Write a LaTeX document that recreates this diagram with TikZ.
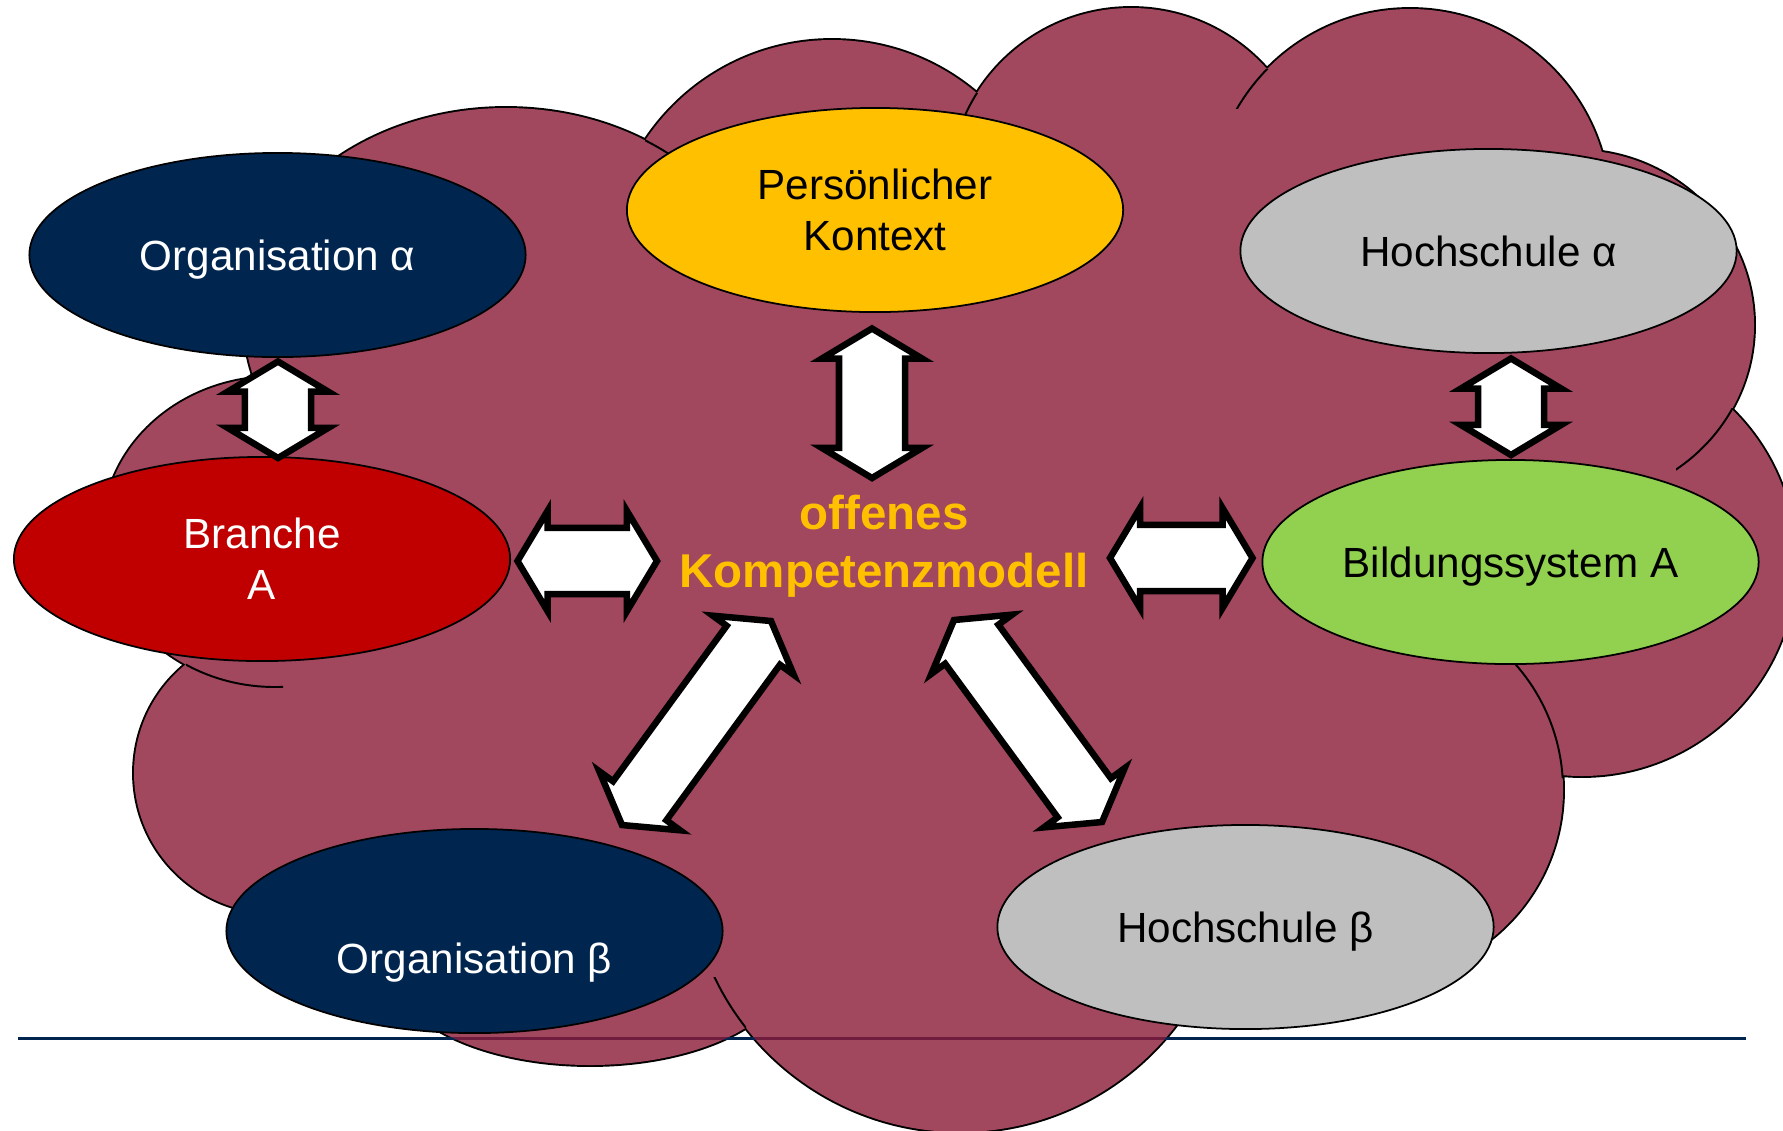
\documentclass[tikz,border=0pt]{standalone}
\usepackage{fontspec}
\setmainfont{Liberation Sans}
\usetikzlibrary{shapes.geometric,calc}

\definecolor{cloudred}{RGB}{161,71,94}
\definecolor{cloudrule}{RGB}{112,28,62}
\definecolor{navy}{RGB}{0,38,80}
\definecolor{brred}{RGB}{192,0,0}
\definecolor{gold}{RGB}{255,192,0}
\definecolor{silver}{RGB}{191,191,191}
\definecolor{leaf}{RGB}{146,208,80}

\tikzset{
  bubble/.style={ellipse, draw=black, line width=0.5pt, minimum width=4.96cm,
    minimum height=2.04cm, inner sep=0pt, align=center,
    font=\fontsize{12}{14.6}\selectfont},
  oneline/.style={text height=0.305cm, text depth=0pt},
  arrowbox/.style={draw=black, fill=white, line width=1.85pt, line join=miter},
  cloudedge/.style={draw=black, line width=0.55pt},
}

% block double arrow between two named points
\def\ahl{0.30cm}
\def\ahw{0.50cm}
\def\asw{0.33cm}
\newcommand{\dblarrow}[2]{%
  \coordinate (da-p) at ($(#1)!\ahl!(#2)$);
  \coordinate (da-q) at ($(#2)!\ahl!(#1)$);
  \draw[arrowbox] (#1)
    -- ($(da-p)!\ahw!90:(#2)$)
    -- ($(da-p)!\asw!90:(#2)$)
    -- ($(da-q)!\asw!-90:(#1)$)
    -- ($(da-q)!\ahw!-90:(#1)$)
    -- (#2)
    -- ($(da-q)!\ahw!90:(#1)$)
    -- ($(da-q)!\asw!90:(#1)$)
    -- ($(da-p)!\asw!-90:(#2)$)
    -- ($(da-p)!\ahw!-90:(#2)$)
    -- cycle;
}

\begin{document}
\begin{tikzpicture}[x=0.01cm, y=-0.01cm]
\useasboundingbox (0,0) rectangle (1783,1130);

% ---- cloud: outline pass, then fill pass hides the inner strokes
\foreach \cx/\cy/\rx/\ry in {275/532/172/155, 274/773/140/140, 590/965/200/100,
    960/860/272/272, 1373/790/190/190, 1582/562/214/214, 1575/325/179/175,
    1410/209/200/200, 1131/190/182/182, 832/264/224/224, 506/320/262/212}
  \draw[line width=1.1pt] (\cx,\cy) ellipse [x radius=\rx, y radius=\ry];
\foreach \cx/\cy/\rx/\ry in {275/532/172/155, 274/773/140/140, 590/965/200/100,
    960/860/272/272, 1373/790/190/190, 1582/562/214/214, 1575/325/179/175,
    1410/209/200/200, 1131/190/182/182, 832/264/224/224, 506/320/262/212}
  \fill[cloudred] (\cx,\cy) ellipse [x radius=\rx, y radius=\ry];
\fill[cloudred] (275,532) -- (506,320) -- (832,264) -- (1131,190) -- (1410,209)
  -- (1575,325) -- (1582,562) -- (1373,790) -- (960,860) -- (590,965)
  -- (274,773) -- cycle;

% inner arcs of the cloud
\begin{scope}\clip (645,125) rectangle (705,180);
  \draw[cloudedge] (506,320) ellipse [x radius=262, y radius=212];\end{scope}
\begin{scope}\clip (940,93) rectangle (978,135);
  \draw[cloudedge] (1131,190) circle [radius=182];\end{scope}
\begin{scope}\clip (1220,69) rectangle (1270,108);
  \draw[cloudedge] (1410,209) circle [radius=200];\end{scope}
\begin{scope}\clip (1676,408) rectangle (1740,480);
  \draw[cloudedge] (1575,325) ellipse [x radius=179, y radius=175];\end{scope}
\begin{scope}\clip (1490,600) rectangle (1570,777);
  \draw[cloudedge] (1373,790) circle [radius=190];\end{scope}
\begin{scope}\clip (186,640) rectangle (283,700);
  \draw[cloudedge] (275,532) ellipse [x radius=172, y radius=155];\end{scope}
\begin{scope}\clip (700,977) rectangle (746,1030);
  \draw[cloudedge] (960,860) circle [radius=272];\end{scope}

% ---- footer rule, darker where it runs across the cloud
\coordinate (rule-l) at (18,1038.5);
\coordinate (rule-r) at (1746,1038.5);
\draw[navy, line width=0.85pt] (rule-l) -- (rule-r);
\begin{scope}\clip (590,965) ellipse [x radius=200, y radius=100];
  \draw[cloudrule, line width=0.85pt] (rule-l) -- (rule-r);\end{scope}
\begin{scope}\clip (960,860) circle [radius=272];
  \draw[cloudrule, line width=0.85pt] (rule-l) -- (rule-r);\end{scope}

% ---- context bubbles
\node[bubble, oneline, fill=navy, text=white] (orgA) at (277.5,255) {Organisation α};
\node[bubble, fill=gold] (pers) at (875,210) {Persönlicher\\Kontext};
\node[bubble, oneline, fill=silver] (hochA) at (1488.5,251) {Hochschule α};
\node[bubble, fill=brred, text=white] (branche) at (262,559) {Branche\\A};
\node[bubble, oneline, fill=leaf] (bild) at (1510.5,562) {Bildungssystem A};
\node[bubble, oneline, fill=navy, text=white] (orgB) at (474.5,931)
  {\raisebox{-0.27cm}{Organisation β}};
\node[bubble, oneline, fill=silver] (hochB) at (1245.5,927) {Hochschule β};

% ---- central label
\node[font=\fontsize{13.5}{16.5}\selectfont\bfseries, text=gold, align=center,
  inner sep=0pt] (model) at (884,546) {offenes\\Kompetenzmodell};

% ---- arrow end points
\coordinate (a1s) at (278,361.5);  \coordinate (a1e) at (278,458);
\coordinate (a2s) at (872,328.5);  \coordinate (a2e) at (872,478);
\coordinate (a3s) at (1511,358.5); \coordinate (a3e) at (1511,455);
\coordinate (a4s) at (517.5,561);  \coordinate (a4e) at (657,561);
\coordinate (a5s) at (1110,558);   \coordinate (a5e) at (1252.5,558);
\coordinate (a6s) at (771,621);    \coordinate (a6e) at (622,825);
\coordinate (a7s) at (954,620);    \coordinate (a7e) at (1102,822);

\dblarrow{a1s}{a1e}
\dblarrow{a2s}{a2e}
\dblarrow{a3s}{a3e}
\dblarrow{a4s}{a4e}
\dblarrow{a5s}{a5e}
\dblarrow{a6s}{a6e}
\dblarrow{a7s}{a7e}
\end{tikzpicture}
\end{document}
